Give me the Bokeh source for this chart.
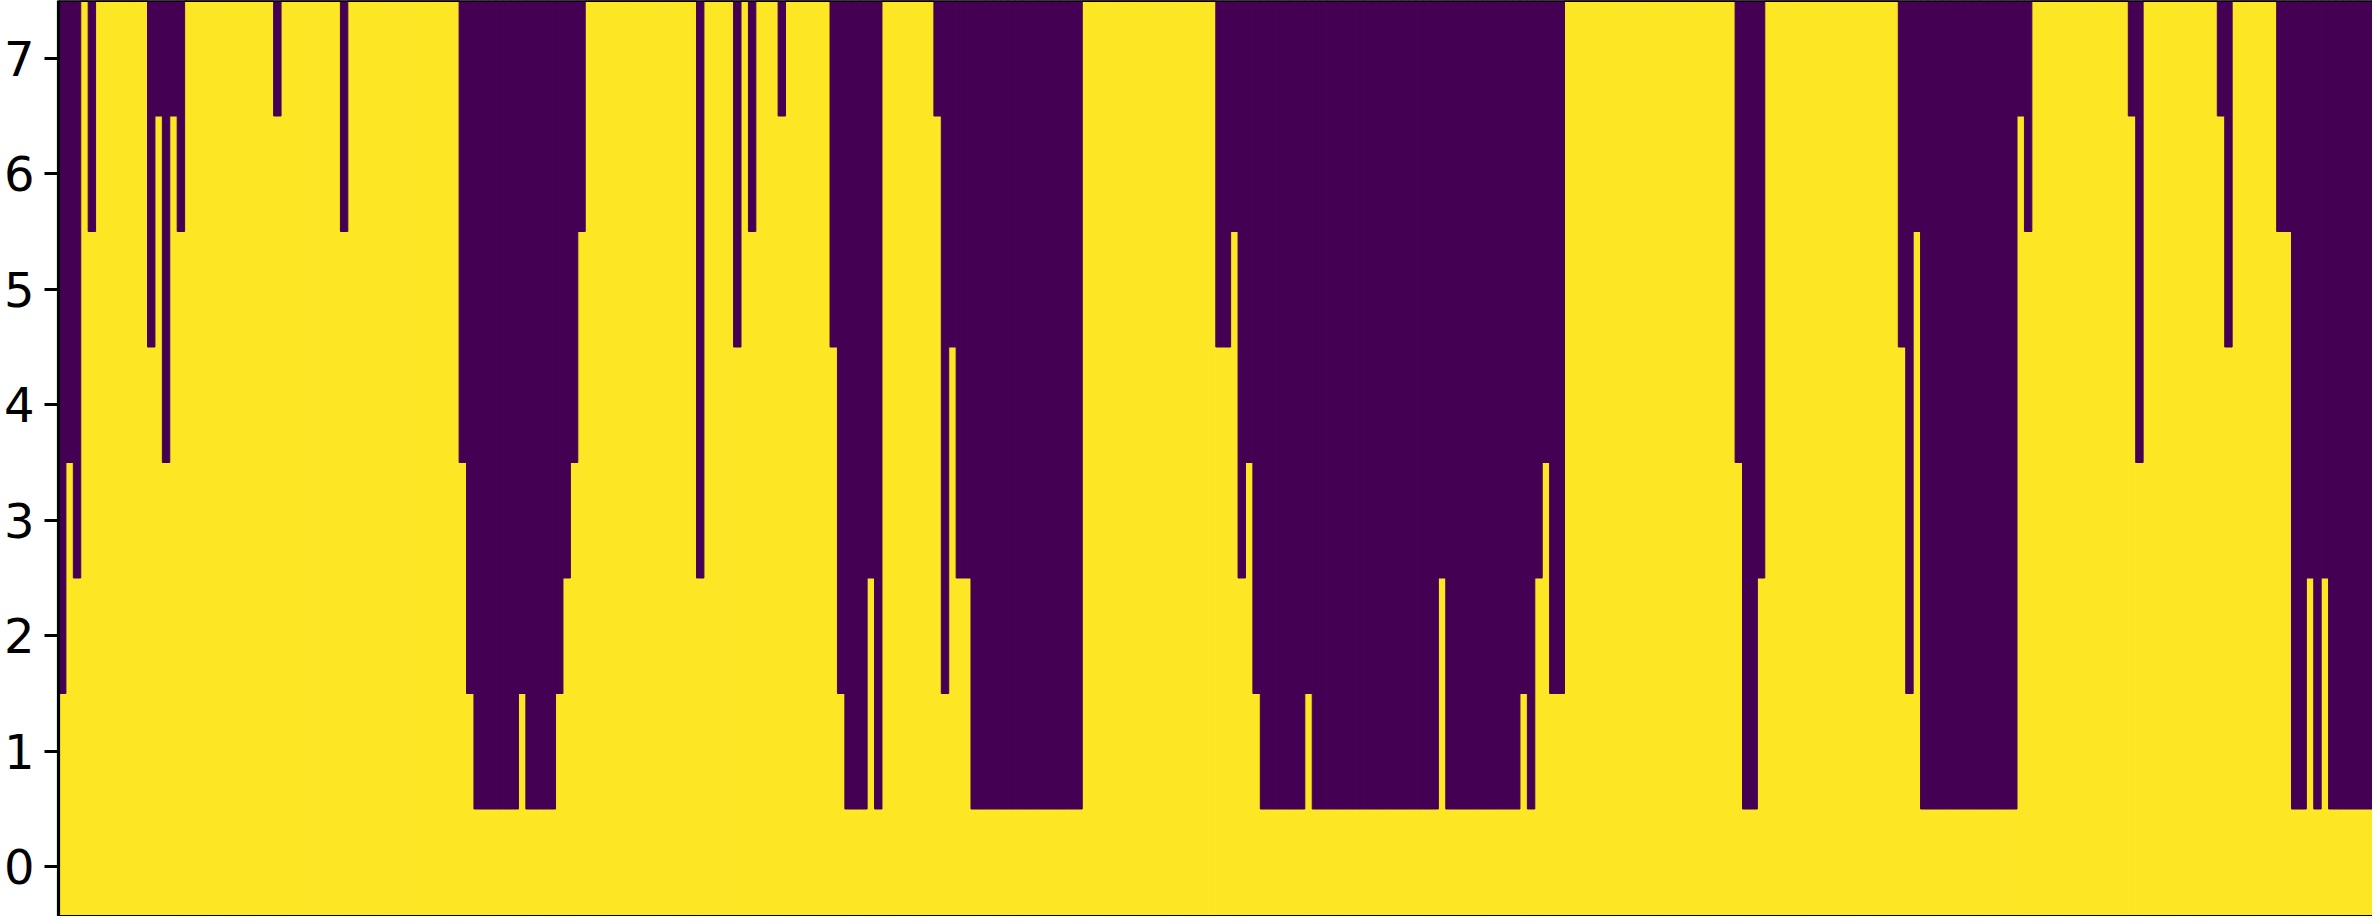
from bokeh.plotting import figure
from bokeh.models import ColumnDataSource, FixedTicker, Span, Range1d
from bokeh.embed import file_html
from bokeh.resources import INLINE

# Number of "on" (yellow) rows, counted from row 0 upward, for each column
heights = [
    2, 4, 3, 8, 6, 8, 8, 8, 8, 8,
    8, 8, 5, 7, 4, 7, 6, 8, 8, 8,
    8, 8, 8, 8, 8, 8, 8, 8, 8, 7,
    8, 8, 8, 8, 8, 8, 8, 8, 6, 8,
    8, 8, 8, 8, 8, 8, 8, 8, 8, 8,
    8, 8, 8, 8, 4, 2, 1, 1, 1, 1,
    1, 1, 2, 1, 1, 1, 1, 2, 3, 4,
    6, 8, 8, 8, 8, 8, 8, 8, 8, 8,
    8, 8, 8, 8, 8, 8, 3, 8, 8, 8,
    8, 5, 8, 6, 8, 8, 8, 7, 8, 8,
    8, 8, 8, 8, 5, 2, 1, 1, 1, 3,
    1, 8, 8, 8, 8, 8, 8, 8, 7, 2,
    5, 3, 3, 1, 1, 1, 1, 1, 1, 1,
    1, 1, 1, 1, 1, 1, 1, 1, 8, 8,
    8, 8, 8, 8, 8, 8, 8, 8, 8, 8,
    8, 8, 8, 8, 8, 8, 5, 5, 6, 3,
    4, 2, 1, 1, 1, 1, 1, 1, 2, 1,
    1, 1, 1, 1, 1, 1, 1, 1, 1, 1,
    1, 1, 1, 1, 1, 1, 3, 1, 1, 1,
    1, 1, 1, 1, 1, 1, 1, 2, 1, 3,
    4, 2, 2, 8, 8, 8, 8, 8, 8, 8,
    8, 8, 8, 8, 8, 8, 8, 8, 8, 8,
    8, 8, 8, 8, 8, 8, 4, 1, 1, 3,
    8, 8, 8, 8, 8, 8, 8, 8, 8, 8,
    8, 8, 8, 8, 8, 8, 8, 8, 5, 2,
    6, 1, 1, 1, 1, 1, 1, 1, 1, 1,
    1, 1, 1, 1, 7, 6, 8, 8, 8, 8,
    8, 8, 8, 8, 8, 8, 8, 8, 8, 7,
    4, 8, 8, 8, 8, 8, 8, 8, 8, 8,
    8, 7, 5, 8, 8, 8, 8, 8, 8, 6,
    6, 1, 1, 3, 1, 3, 1, 1, 1, 1,
    1, 1, 1,
]
row_ticks = [0, 1, 2, 3, 4, 5, 6, 7]
n_rows = 8
color_off = "#440154"   # viridis low
color_on = "#fde725"    # viridis high

columns = list(range(len(heights)))
src = ColumnDataSource(dict(
    x=columns,
    split=[h - 0.5 for h in heights],
))

W, H = 2372, 916
border_left = 56
col_px = 7.425
row_px = 115.5

x_end = -0.5 + (W - border_left) / col_px
y_top = n_rows - 0.5
y_bot = (n_rows - 0.5) - H / row_px

p = figure(width=W, height=H, output_backend="svg", toolbar_location=None,
           x_range=Range1d(-0.5, x_end), y_range=Range1d(y_bot, y_top),
           min_border_left=border_left, min_border_right=0,
           min_border_top=0, min_border_bottom=0)

p.vbar(x="x", width=1, bottom=-0.5, top="split", source=src,
       fill_color=color_on, line_color=color_on, line_width=1)
p.vbar(x="x", width=1, bottom="split", top=n_rows - 0.5, source=src,
       fill_color=color_off, line_color=color_off, line_width=1)

p.xaxis.visible = False
p.grid.visible = False
p.outline_line_color = None
p.background_fill_color = "white"
p.border_fill_color = "white"

ya = p.yaxis[0]
ya.ticker = FixedTicker(ticks=row_ticks)
ya.axis_line_color = "black"
ya.axis_line_width = 3.2
ya.major_tick_out = 14
ya.major_tick_in = 0
ya.major_tick_line_width = 3.2
ya.major_tick_line_color = "black"
ya.minor_tick_out = 0
ya.minor_tick_in = 0
ya.major_label_standoff = 10
ya.major_label_text_font = "DejaVu Sans"
ya.major_label_text_font_size = "48px"
ya.major_label_text_color = "black"

p.add_layout(Span(location=y_top, dimension="width", line_color="black", line_width=3.2))
p.add_layout(Span(location=y_bot, dimension="width", line_color="black", line_width=3.2))

open("out.html", "w").write(file_html(p, INLINE))
